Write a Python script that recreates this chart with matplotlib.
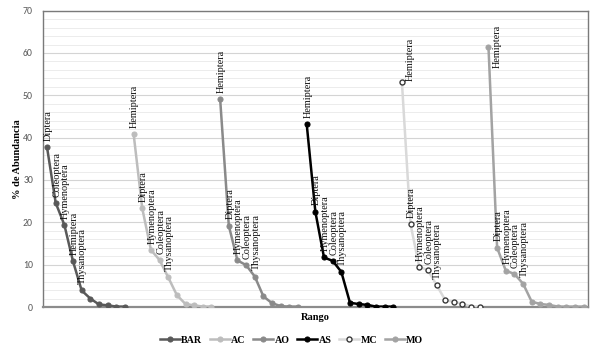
import numpy as np
import matplotlib
matplotlib.use("Agg")
import matplotlib.pyplot as plt
from matplotlib.ticker import MultipleLocator

series_names = ["BAR", "AC", "AO", "AS", "MC", "MO"]
bar_vals = [37.7, 24.6, 19.4, 10.8, 3.9, 2.0, 0.6, 0.4, 0.1, 0.1]
ac_vals = [40.9, 23.3, 13.5, 11.1, 7.0, 2.8, 0.7, 0.4, 0.1, 0.1]
ao_vals = [49.1, 19.2, 11.0, 9.9, 7.2, 2.5, 0.9, 0.2, 0.1, 0.1]
as_vals = [43.2, 22.5, 11.7, 10.9, 8.3, 1.0, 0.7, 0.5, 0.1, 0.1, 0.1]
mc_vals = [53.1, 19.5, 9.5, 8.7, 5.2, 1.65, 1.2, 0.8, 0.1, 0.1]
mo_vals = [61.5, 14.0, 8.6, 7.8, 5.5, 1.25, 0.7, 0.5, 0.1, 0.1, 0.1, 0.1]

bar_labels = ["Diptera", "Coleoptera", "Hymenoptera", "Hemiptera", "Thysanoptera"]
ac_labels = ["Hemiptera", "Diptera", "Hymenoptera", "Coleoptera", "Thysanoptera"]
ao_labels = ["Hemiptera", "Diptera", "Hymenoptera", "Coleoptera", "Thysanoptera"]
as_labels = ["Hemiptera", "Diptera", "Hymenoptera", "Coleoptera", "Thysanoptera"]
mc_labels = ["Hemiptera", "Diptera", "Hymenoptera", "Coleoptera", "Thysanoptera"]
mo_labels = ["Hemiptera", "Diptera", "Hymenoptera", "Coleoptera", "Thysanoptera"]

all_vals = [bar_vals, ac_vals, ao_vals, as_vals, mc_vals, mo_vals]
all_labels = [bar_labels, ac_labels, ao_labels, as_labels, mc_labels, mo_labels]

styles = [
    dict(color="#595959", mfc="#595959", mec="#595959"),
    dict(color="#bdbdbd", mfc="#bdbdbd", mec="#bdbdbd"),
    dict(color="#8a8a8a", mfc="#8a8a8a", mec="#8a8a8a"),
    dict(color="#000000", mfc="#000000", mec="#000000"),
    dict(color="#d9d9d9", mfc="white", mec="#3a3a3a"),
    dict(color="#a3a3a3", mfc="#a3a3a3", mec="#a3a3a3"),
]

serif = ["Liberation Serif", "DejaVu Serif"]

fig = plt.figure(figsize=(6.0, 3.55), dpi=100)
ax = fig.add_axes([0.0712, 0.1352, 0.9088, 0.8348])

start = 0
for name, vals, labs, st in zip(series_names, all_vals, all_labels, styles):
    x = np.arange(start, start + len(vals))
    ax.plot(x, vals, marker="o", markersize=3.6, linewidth=1.8,
            color=st["color"], markerfacecolor=st["mfc"],
            markeredgecolor=st["mec"], markeredgewidth=1.0 if name == "MC" else 0.8,
            label=name, zorder=3)
    for i, lab in enumerate(labs):
        if i == 0 and name == "MO":
            kw = dict(xytext=(6, 0), ha="center", va="center")
        elif i == 0 and name == "MC":
            kw = dict(xytext=(6, 1), ha="center", va="bottom")
        else:
            kw = dict(xytext=(0.8, 4.5), ha="center", va="bottom")
        ax.annotate(lab, (x[i], vals[i]), textcoords="offset points",
                    rotation=90, fontsize=7.4, family=serif,
                    color="#111111", zorder=4, **kw)
    start += len(vals)

n_total = start
ax.set_xlim(-0.5, n_total - 0.5)
ax.set_ylim(0, 70)
ax.yaxis.set_major_locator(MultipleLocator(10))
ax.yaxis.set_minor_locator(MultipleLocator(2))
ax.grid(axis="y", which="major", color="#d4d4d4", linewidth=0.8, zorder=0)
ax.grid(axis="y", which="minor", color="#ececec", linewidth=0.7, zorder=0)
ax.set_axisbelow(True)
ax.set_xticks([])
ax.tick_params(axis="y", which="both", length=0, labelsize=7, labelcolor="#595959", pad=7)
for lab in ax.get_yticklabels():
    lab.set_family(["Carlito", "Liberation Sans", "DejaVu Sans"])
for side in ["left", "top", "right"]:
    ax.spines[side].set_color("#7a7a7a")
    ax.spines[side].set_linewidth(1.0)
ax.spines["bottom"].set_color("#8c8c8c")
ax.spines["bottom"].set_linewidth(1.6)

ax.set_ylabel("% de Abundancia", family=serif, fontweight="bold", fontsize=7.5, labelpad=1)
ax.set_xlabel("Rango", family=serif, fontweight="bold", fontsize=7.5, labelpad=4)

leg = fig.legend(loc="center", bbox_to_anchor=(0.486, 0.042), ncol=6, frameon=False,
                 prop={"family": serif, "weight": "bold", "size": 7.2},
                 handlelength=2.0, handletextpad=0.15, columnspacing=0.75)

fig.savefig("out.png", dpi=100)
